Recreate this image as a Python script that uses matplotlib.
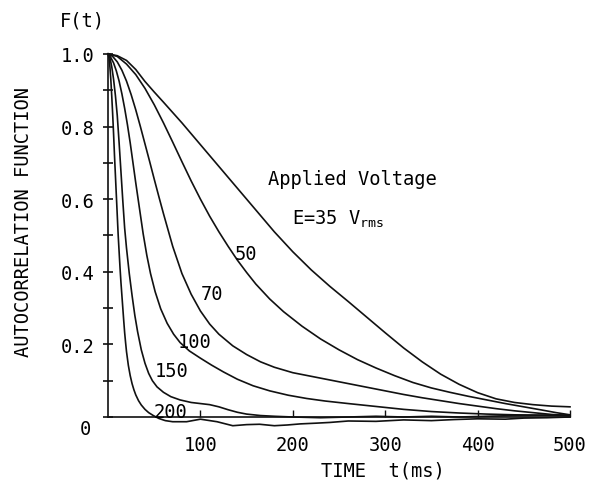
import matplotlib
matplotlib.use("Agg")
import matplotlib.pyplot as plt
from matplotlib.ticker import MultipleLocator

# t in ms
t35 = [0, 10, 20, 30, 40, 50, 60, 80, 100, 120, 140, 160, 180, 200, 220, 240, 260, 280,
       300, 320, 340, 360, 380, 400, 420, 440, 460, 480, 500]
f35 = [1.0, 0.995, 0.982, 0.957, 0.924, 0.895, 0.867, 0.81, 0.75, 0.69, 0.63, 0.57, 0.51,
       0.455, 0.405, 0.36, 0.318, 0.275, 0.232, 0.19, 0.152, 0.118, 0.09, 0.067, 0.05, 0.04,
       0.034, 0.03, 0.028]

t50 = [0, 10, 20, 30, 40, 50, 60, 70, 80, 90, 100, 110, 120, 130, 140, 150, 160, 175, 190,
       210, 230, 250, 270, 290, 310, 330, 350, 370, 390, 410, 430, 450, 470, 485, 500]
f50 = [1.0, 0.993, 0.972, 0.943, 0.905, 0.86, 0.81, 0.757, 0.703, 0.65, 0.6, 0.553, 0.51,
       0.47, 0.432, 0.398, 0.366, 0.325, 0.29, 0.25, 0.215, 0.185, 0.158, 0.135, 0.114, 0.095,
       0.08, 0.068, 0.057, 0.047, 0.037, 0.028, 0.019, 0.012, 0.006]

t70 = [0, 5, 10, 15, 20, 25, 30, 35, 40, 45, 50, 55, 60, 70, 80, 90, 100, 110, 120, 135,
       150, 165, 180, 200, 220, 240, 260, 280, 300, 320, 340, 360, 380, 400, 420, 440, 460,
       480, 500]
f70 = [1.0, 0.993, 0.978, 0.955, 0.925, 0.888, 0.846, 0.80, 0.752, 0.704, 0.655, 0.607, 0.56,
       0.47, 0.395, 0.338, 0.292, 0.256, 0.228, 0.196, 0.172, 0.152, 0.137, 0.122, 0.112,
       0.102, 0.092, 0.082, 0.072, 0.062, 0.053, 0.045, 0.037, 0.03, 0.023, 0.017, 0.012,
       0.007, 0.004]

t100 = [0, 3, 6, 9, 12, 15, 18, 21, 24, 27, 30, 34, 38, 42, 46, 51, 57, 64, 71, 78, 88, 100,
        112, 125, 140, 157, 175, 195, 215, 235, 260, 290, 320, 350, 380, 410, 440, 470, 500]
f100 = [1.0, 0.99, 0.975, 0.953, 0.925, 0.89, 0.85, 0.805, 0.755, 0.70, 0.645, 0.575, 0.505,
        0.445, 0.395, 0.345, 0.298, 0.258, 0.228, 0.205, 0.182, 0.162, 0.143, 0.124, 0.104,
        0.086, 0.072, 0.06, 0.051, 0.044, 0.037, 0.029, 0.021, 0.015, 0.011, 0.008, 0.006,
        0.005, 0.004]

t150 = [0, 2, 4, 6, 8, 10, 12, 14, 16, 18, 20, 23, 26, 29, 32, 36, 40, 44, 48, 53, 60, 68,
        78, 90, 100, 110, 120, 130, 140, 150, 165, 180, 200, 230, 260, 290, 320, 350, 380,
        410, 440, 470, 500]
f150 = [1.0, 0.99, 0.965, 0.93, 0.885, 0.83, 0.755, 0.675, 0.595, 0.52, 0.465, 0.395, 0.335,
        0.28, 0.235, 0.185, 0.148, 0.12, 0.1, 0.083, 0.068, 0.056, 0.047, 0.04, 0.037, 0.034,
        0.028, 0.02, 0.013, 0.008, 0.004, 0.002, 0.0, -0.002, 0.0, 0.002, 0.0, 0.002, 0.0,
        0.002, 0.004, 0.005, 0.005]

t200 = [0, 1, 2, 3, 4, 5, 6, 7, 8, 9, 10, 11, 12, 13, 14, 15, 16, 17, 18, 19, 20, 22, 24, 26,
        28, 30, 33, 36, 40, 44, 49, 55, 62, 70, 85, 100, 118, 135, 150, 164, 180, 194, 208,
        225, 240, 260, 290, 320, 350, 375, 400, 430, 450, 475, 500]
f200 = [1.0, 0.99, 0.965, 0.93, 0.885, 0.835, 0.78, 0.72, 0.665, 0.61, 0.555, 0.5, 0.455,
        0.41, 0.37, 0.335, 0.3, 0.265, 0.232, 0.205, 0.18, 0.142, 0.114, 0.092, 0.075, 0.061,
        0.045, 0.033, 0.021, 0.012, 0.004, -0.004, -0.01, -0.013, -0.013, -0.006, -0.013,
        -0.024, -0.021, -0.02, -0.024, -0.022, -0.019, -0.017, -0.015, -0.011, -0.012, -0.008,
        -0.01, -0.007, -0.005, -0.006, -0.003, -0.002, 0.0]

series = [(t35, f35), (t50, f50), (t70, f70), (t100, f100), (t150, f150), (t200, f200)]

# curve labels: text, left x, baseline y
curve_labels = [("50", 137, 0.435), ("70", 100, 0.325), ("100", 76, 0.193),
                ("150", 51, 0.113), ("200", 49, 0.0)]

x_ticks = [100, 200, 300, 400, 500]
y_ticks = [0.2, 0.4, 0.6, 0.8, 1.0]
y_tick_labels = ["0.2", "0.4", "0.6", "0.8", "1.0"]

plt.rcParams["font.family"] = "DejaVu Sans Mono"
plt.rcParams["mathtext.fontset"] = "custom"
plt.rcParams["mathtext.rm"] = "DejaVu Sans Mono"
plt.rcParams["mathtext.it"] = "DejaVu Sans Mono"
FS = 13.5

fig = plt.figure(figsize=(5.95, 4.85), dpi=100)
ax = fig.add_axes([0.1738, 0.1082, 0.7997, 0.7936])
ax.set_xlim(-5, 510)
ax.set_ylim(-0.04, 1.02)

for t, f in series:
    ax.plot(t, f, color="#111111", lw=1.2, solid_joinstyle="round")

# axes look like an old plotter drawing
for side in ["top", "right"]:
    ax.spines[side].set_visible(False)
ax.spines["left"].set_position(("data", 0))
ax.spines["left"].set_bounds(0, 1.0)
ax.spines["bottom"].set_position(("data", 0))
ax.spines["bottom"].set_bounds(0, 500)
for side in ["left", "bottom"]:
    ax.spines[side].set_linewidth(1.2)
    ax.spines[side].set_color("#111111")

ax.set_yticks(y_ticks)
ax.set_yticklabels(y_tick_labels)
ax.yaxis.set_minor_locator(MultipleLocator(0.1))
ax.tick_params(axis="y", which="both", direction="inout", length=7, width=1.2,
               pad=6, labelsize=FS, color="#111111")
ax.set_xticks(x_ticks)
ax.set_xticklabels([str(v) for v in x_ticks])
ax.tick_params(axis="x", direction="in", length=5, width=1.0, pad=13,
               labelsize=FS, color="#111111")

ax.annotate("0", xy=(0, 0), xytext=(-23, -12), textcoords="offset pixels",
            ha="center", va="center", fontsize=FS)
ax.text(-52, 1.077, "F(t)", fontsize=FS, ha="left", va="baseline")

ax.set_ylabel("AUTOCORRELATION FUNCTION", fontsize=FS)
ax.yaxis.set_label_coords(-0.148, 0.547)
ax.set_xlabel("TIME  t(ms)", fontsize=FS)
ax.xaxis.set_label_coords(0.588, -0.075)

ax.text(173, 0.642, "Applied Voltage", fontsize=FS, ha="left", va="baseline")
ax.text(199, 0.532, r"E=35 V$_{\mathrm{rms}}$", fontsize=FS, ha="left", va="baseline")
for txt, x, y in curve_labels:
    ax.text(x, y, txt, fontsize=FS, ha="left", va="baseline")

fig.savefig("out.png", dpi=100, facecolor="white")
